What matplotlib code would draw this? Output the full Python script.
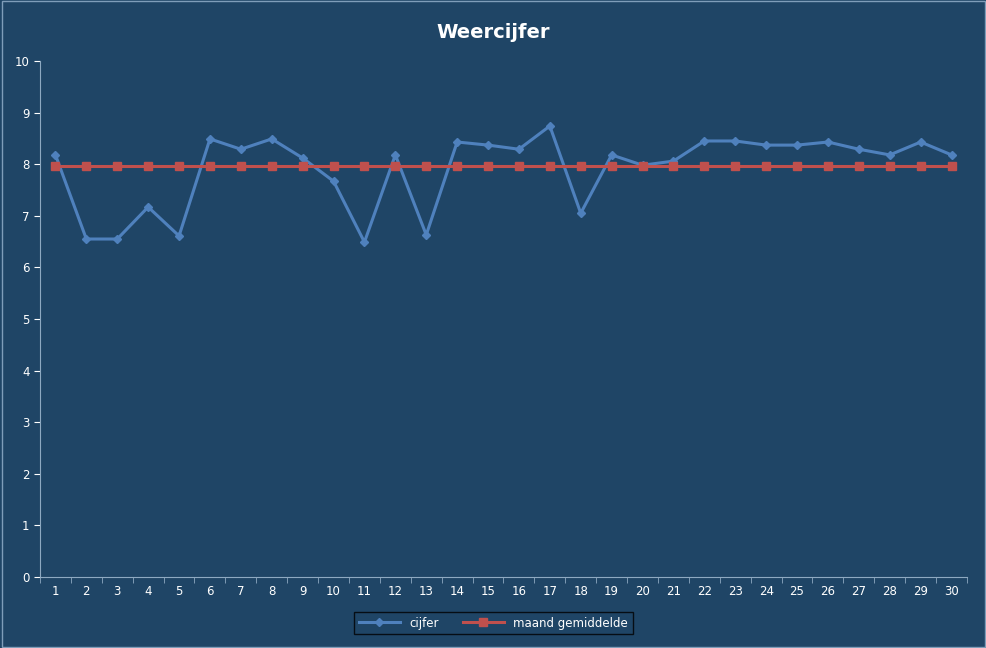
import matplotlib.pyplot as plt

days = list(range(1, 31))
cijfer = [8.18, 6.55, 6.55, 7.17, 6.61, 8.49, 8.29, 8.49, 8.12, 7.67,
          6.49, 8.18, 6.63, 8.43, 8.37, 8.29, 8.74, 7.05, 8.18, 7.98,
          8.06, 8.45, 8.45, 8.37, 8.37, 8.43, 8.29, 8.18, 8.43, 8.18]
gemiddelde = [7.96] * 30

bg = '#1F4566'
fig = plt.figure(figsize=(9.87, 6.48), dpi=100, facecolor=bg)
ax = fig.add_axes([40 / 987, 1 - 577 / 648, 927 / 987, 516 / 648], facecolor=bg)

ax.plot(days, cijfer, color='#4F81BD', lw=2.2, marker='D', ms=4.5, label='cijfer')
ax.plot(days, gemiddelde, color='#C0504D', lw=2.2, marker='s', ms=6, label='maand gemiddelde')

ax.set_xlim(0.5, 30.5)
ax.set_ylim(0, 10)
# labels in the middle, tick marks on the category boundaries
ax.set_xticks(days)
ax.set_xticks([d + 0.5 for d in range(0, 31)], minor=True)
ax.tick_params(axis='x', which='major', length=0, pad=6)
ax.tick_params(axis='x', which='minor', length=4, colors='#8EA9C1')
ax.set_yticks(range(0, 11))
ax.tick_params(colors='white', labelsize=8.5)
ax.tick_params(axis='y', length=4)
for s in ['top', 'right']:
    ax.spines[s].set_visible(False)
for s in ['left', 'bottom']:
    ax.spines[s].set_color('#8EA9C1')

fig.text(0.5, 1 - 32 / 648, 'Weercijfer', color='white', fontsize=14,
         fontweight='bold', ha='center', va='center')

leg = fig.legend(loc='center', bbox_to_anchor=(0.5, 1 - 623 / 648), ncol=2,
                 frameon=True, fontsize=8.5, fancybox=False, handlelength=3.5)
leg.get_frame().set_facecolor(bg)
leg.get_frame().set_edgecolor('black')
for t in leg.get_texts():
    t.set_color('white')

fig.patches.append(plt.Rectangle((0.002, 0.002), 0.996, 0.996, transform=fig.transFigure,
                                 fill=False, edgecolor='#7F9DB9', lw=1))
fig.savefig('out.png', facecolor=bg)
